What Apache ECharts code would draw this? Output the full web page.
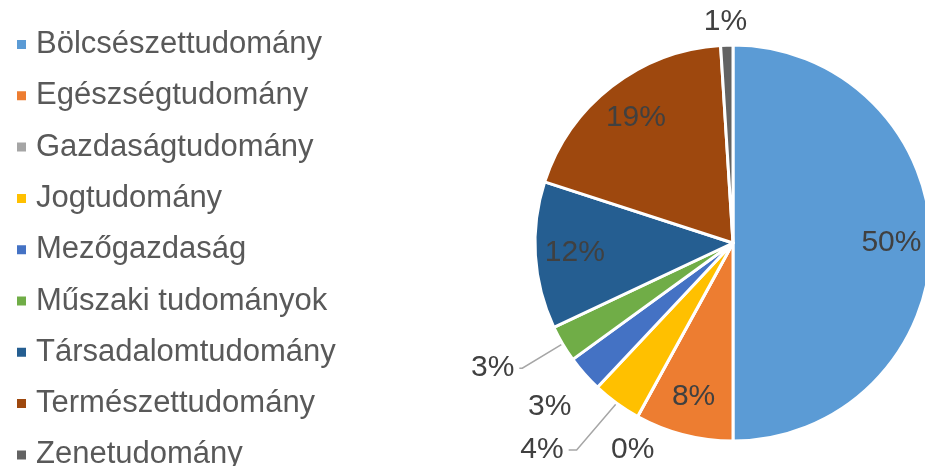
<!DOCTYPE html>
<html>
<head>
<meta charset="utf-8">
<script src="https://cdn.jsdelivr.net/npm/echarts@6/dist/echarts.min.js"></script>
<style>
  html, body { margin: 0; padding: 0; background: #fff; }
  #chart { width: 925px; height: 466px; }
</style>
</head>
<body>
<div id="chart"></div>
<script>
  const categories = [
    'Bölcsészettudomány',
    'Egészségtudomány',
    'Gazdaságtudomány',
    'Jogtudomány',
    'Mezőgazdaság',
    'Műszaki tudományok',
    'Társadalomtudomány',
    'Természettudomány',
    'Zenetudomány',
  ]
  const shares = [50, 8, 0, 4, 3, 3, 12, 19, 1]
  const colors = ['#5B9BD5', '#ED7D31', '#A5A5A5', '#FFC000', '#4472C4', '#70AD47', '#255E91', '#9E480E', '#636363']

  // where each slice's label sits: 'in' inside the slice, 'line' outside with leader line,
  // 'free' outside without a line (drawn by the second ring so they don't push each other)
  const labelKind = ['in', 'in', 'free', 'line', 'free', 'line', 'in', 'in', 'line']
  const lineLen = [0, 0, 42, 68, 50, 48, 0, 0, 23]
  const lineLen2 = [0, 0, -42, 8, -19, 3, 0, 0, -26]
  const showLine = [false, false, false, true, false, true, false, false, false]

  const font = 'Liberation Sans, Arial, sans-serif'
  const center = [733, 243]
  const radius = 198

  const chart = echarts.init(document.getElementById('chart'))

  const mainData = categories.map((name, i) => ({
    name,
    value: shares[i],
    itemStyle: { color: colors[i] },
    label: { show: labelKind[i] === 'line' },
    labelLine: { show: showLine[i], length: lineLen[i], length2: lineLen2[i] },
  }))

  const ringData = categories.map((name, i) => ({
    name,
    value: shares[i],
    label: {
      show: labelKind[i] === 'in' || labelKind[i] === 'free',
      position: labelKind[i] === 'in' ? 'inside' : 'outside',
    },
    labelLine: { show: false, length: lineLen[i], length2: lineLen2[i] },
  }))

  const labelStyle = {
    formatter: '{d}%',
    fontFamily: font,
    fontSize: 30,
    lineHeight: 22,
    color: '#404040',
  }

  chart.setOption({
    animation: false,
    legend: {
      orient: 'vertical',
      left: 15,
      top: 29,
      height: 470,
      padding: 0,
      icon: 'rect',
      itemWidth: 11,
      itemHeight: 11,
      itemGap: 20.3,
      data: categories,
      textStyle: {
        fontFamily: font,
        fontSize: 31,
        lineHeight: 30,
        color: '#595959',
        padding: [0, 0, 0, 4],
      },
    },
    series: [
      {
        type: 'pie',
        center,
        radius,
        startAngle: 90,
        clockwise: true,
        percentPrecision: 0,
        itemStyle: { borderColor: '#fff', borderWidth: 3 },
        label: Object.assign({ position: 'outside' }, labelStyle),
        labelLine: { lineStyle: { color: '#a6a6a6', width: 1.5 } },
        emphasis: { disabled: true },
        data: mainData,
      },
      {
        type: 'pie',
        center,
        radius: [radius * 0.57, radius],
        startAngle: 90,
        clockwise: true,
        percentPrecision: 0,
        silent: true,
        itemStyle: { color: 'rgba(0,0,0,0)' },
        label: labelStyle,
        emphasis: { disabled: true },
        data: ringData,
      },
    ],
  })
</script>
</body>
</html>
